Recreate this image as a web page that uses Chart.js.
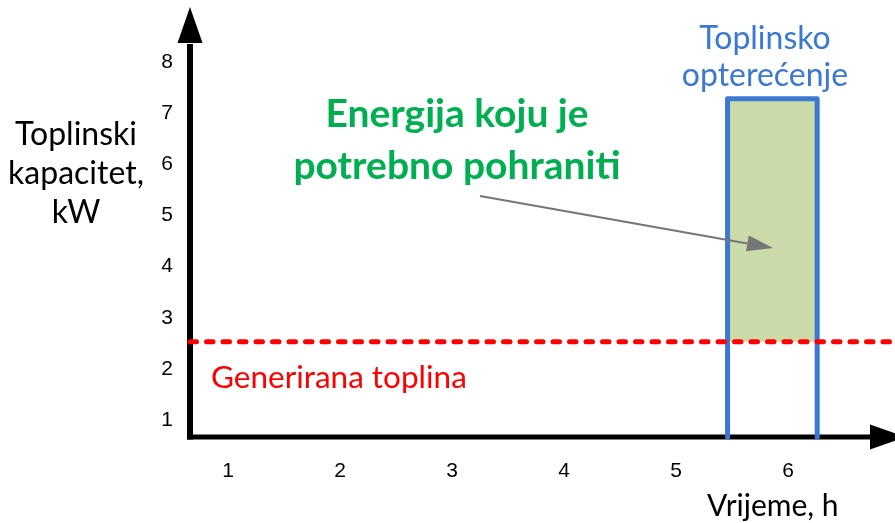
<!DOCTYPE html>
<html>
<head>
<meta charset="utf-8">
<script src="https://cdn.jsdelivr.net/npm/chart.js@4.4.1/dist/chart.umd.min.js"></script>
<style>
  html, body { margin: 0; padding: 0; background: #ffffff; }
  #wrap { width: 895px; height: 523px; position: relative; }
</style>
</head>
<body>
<div id="wrap"><canvas id="c" width="895" height="523"></canvas></div>
<script>
// ---- data ----
const xTickValues = [1, 2, 3, 4, 5, 6];           // Vrijeme, h
const yTickValues = [1, 2, 3, 4, 5, 6, 7, 8];     // Toplinski kapacitet, kW
const xRange = [0.66, 6.955];
const yRange = [0.668, 9.213];
const generatedHeat = [2.53];                     // kW, constant generation
const loadInterval = [5.46, 6.26];                // h, start / end of load
const loadPeak = [7.28];                          // kW

const labels = {
  yTitle: ['Toplinski', 'kapacitet,', 'kW'],
  xTitle: 'Vrijeme, h',
  load: ['Toplinsko', 'opterećenje'],
  energy: ['Energija koju je', 'potrebno pohraniti'],
  generated: 'Generirana toplina'
};

const BLUE = '#3a78d2';
const RED = '#ff0000';
const GREEN_FILL = '#cadaa9';
const GREEN_TEXT = '#00b050';
const BODY_FONT = 'Lato, "Open Sans", sans-serif';

const decorations = {
  id: 'decorations',
  beforeDatasetsDraw(chart) {
    const ctx = chart.ctx;
    const a = chart.chartArea;
    ctx.save();
    ctx.fillStyle = '#000';
    ctx.strokeStyle = '#000';
    // y axis line + arrow
    ctx.lineWidth = 6;
    ctx.beginPath();
    ctx.moveTo(a.left, a.bottom + 2.5);
    ctx.lineTo(a.left, a.top + 44);
    ctx.stroke();
    ctx.beginPath();
    ctx.moveTo(a.left - 12.5, a.top + 43);
    ctx.lineTo(a.left + 12.5, a.top + 43);
    ctx.lineTo(a.left, a.top + 7);
    ctx.closePath();
    ctx.fill();
    // x axis line + arrow
    ctx.lineWidth = 5;
    ctx.beginPath();
    ctx.moveTo(a.left - 3, a.bottom);
    ctx.lineTo(a.right - 24, a.bottom);
    ctx.stroke();
    ctx.beginPath();
    ctx.moveTo(a.right - 25, a.bottom - 12.5);
    ctx.lineTo(a.right - 25, a.bottom + 12.5);
    ctx.lineTo(a.right + 11, a.bottom);
    ctx.closePath();
    ctx.fill();
    ctx.restore();
  },
  afterDatasetsDraw(chart) {
    const ctx = chart.ctx;
    ctx.save();
    ctx.textBaseline = 'alphabetic';
    // y title
    ctx.fillStyle = '#000';
    ctx.textAlign = 'center';
    ctx.font = '32px ' + BODY_FONT;
    labels.yTitle.forEach((t, i) => ctx.fillText(t, 76, 145 + i * 39));
    // x title
    ctx.textAlign = 'left';
    ctx.font = '30px ' + BODY_FONT;
    ctx.fillText(labels.xTitle, 707, 516);
    // load label
    ctx.fillStyle = BLUE;
    ctx.textAlign = 'center';
    ctx.font = '32px ' + BODY_FONT;
    labels.load.forEach((t, i) => ctx.fillText(t, 765, 49 + i * 37));
    // generated label
    ctx.fillStyle = RED;
    ctx.textAlign = 'left';
    ctx.font = '31.5px ' + BODY_FONT;
    ctx.fillText(labels.generated, 211, 388);
    // energy label
    ctx.fillStyle = GREEN_TEXT;
    ctx.textAlign = 'center';
    ctx.font = 'bold 39px ' + BODY_FONT;
    labels.energy.forEach((t, i) => ctx.fillText(t, 457, 127 + i * 52));
    // gray pointer arrow
    ctx.strokeStyle = '#767676';
    ctx.fillStyle = '#767676';
    ctx.lineWidth = 2;
    const x0 = 480, y0 = 196, x1 = 773, y1 = 248;
    const ang = Math.atan2(y1 - y0, x1 - x0);
    const len = 26, hw = 8;
    const bx = x1 - len * Math.cos(ang), by = y1 - len * Math.sin(ang);
    ctx.beginPath();
    ctx.moveTo(x0, y0);
    ctx.lineTo(bx, by);
    ctx.stroke();
    ctx.beginPath();
    ctx.moveTo(x1, y1);
    ctx.lineTo(bx - hw * Math.sin(ang), by + hw * Math.cos(ang));
    ctx.lineTo(bx + hw * Math.sin(ang), by - hw * Math.cos(ang));
    ctx.closePath();
    ctx.fill();
    ctx.restore();
  }
};

new Chart(document.getElementById('c'), {
  type: 'scatter',
  data: {
    datasets: [
      {
        label: 'Generirana toplina',
        data: [{ x: xRange[0], y: generatedHeat[0] }, { x: xRange[1], y: generatedHeat[0] }],
        showLine: true,
        borderColor: RED,
        borderWidth: 5,
        borderDash: [6.5, 10],
        borderCapStyle: 'round',
        pointRadius: 0,
        fill: false,
        clip: false,
        order: 0
      },
      {
        label: 'Toplinsko opterećenje',
        data: [
          { x: loadInterval[0], y: yRange[0] },
          { x: loadInterval[0], y: loadPeak[0] },
          { x: loadInterval[1], y: loadPeak[0] },
          { x: loadInterval[1], y: yRange[0] }
        ],
        showLine: true,
        borderColor: BLUE,
        borderWidth: 5,
        borderJoinStyle: 'round',
        borderCapStyle: 'round',
        pointRadius: 0,
        fill: false,
        clip: false,
        order: 1
      },
      {
        label: 'Energija koju je potrebno pohraniti',
        data: [{ x: loadInterval[0], y: loadPeak[0] }, { x: loadInterval[1], y: loadPeak[0] }],
        showLine: true,
        borderWidth: 0,
        borderColor: 'rgba(0,0,0,0)',
        backgroundColor: GREEN_FILL,
        pointRadius: 0,
        fill: { value: generatedHeat[0] },
        clip: false,
        order: 2
      }
    ]
  },
  options: {
    responsive: false,
    devicePixelRatio: 1,
    animation: false,
    layout: { padding: 0 },
    plugins: { legend: { display: false }, tooltip: { enabled: false }, title: { display: false } },
    scales: {
      x: {
        type: 'linear',
        position: 'bottom',
        min: xRange[0],
        max: xRange[1],
        afterBuildTicks: s => { s.ticks = xTickValues.map(v => ({ value: v })); },
        afterFit: s => { s.height = 86; s.paddingLeft = 0; s.paddingRight = 0; },
        grid: { display: false, drawTicks: false },
        border: { display: false },
        ticks: {
          padding: 22,
          color: '#000',
          font: { family: '"Liberation Sans", Arial, sans-serif', size: 21 },
          maxRotation: 0,
          autoSkip: false,
          callback: v => String(v)
        }
      },
      y: {
        type: 'linear',
        min: yRange[0],
        max: yRange[1],
        afterBuildTicks: s => { s.ticks = yTickValues.map(v => ({ value: v })); },
        afterFit: s => { s.width = 190; s.paddingTop = 0; s.paddingBottom = 0; },
        grid: { display: false, drawTicks: false },
        border: { display: false },
        ticks: {
          padding: 17,
          color: '#000',
          font: { family: '"Liberation Sans", Arial, sans-serif', size: 21 },
          autoSkip: false,
          callback: v => String(v)
        }
      }
    }
  },
  plugins: [decorations]
});
</script>
</body>
</html>
